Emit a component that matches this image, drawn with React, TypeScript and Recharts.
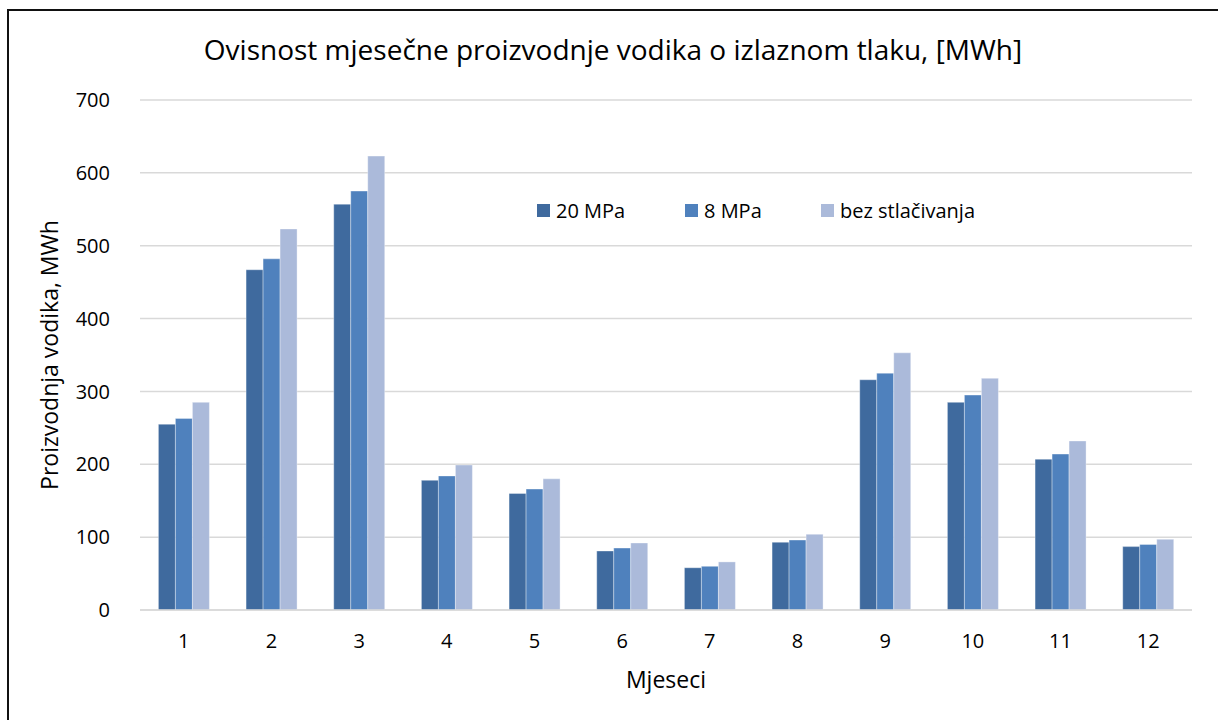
import { BarChart, Bar, XAxis, YAxis, CartesianGrid } from "recharts";

const months = ["1", "2", "3", "4", "5", "6", "7", "8", "9", "10", "11", "12"];
const mpa20 = [255, 467, 557, 178, 160, 81, 58, 93, 316, 285, 207, 87];
const mpa8 = [263, 482, 575, 184, 166, 85, 60, 96, 325, 295, 214, 90];
const bezStlacivanja = [285, 523, 623, 199, 180, 92, 66, 104, 353, 318, 232, 97];
const yTicks = [0, 100, 200, 300, 400, 500, 600, 700];

const seriesNames = ["20 MPa", "8 MPa", "bez stlačivanja"];
const seriesColors = ["#3f6a9e", "#4f81bd", "#abbada"];

const FONT = "'Open Sans', 'Noto Sans', sans-serif";

const data = months.map((m, i) => ({
  month: m,
  p20: mpa20[i],
  p8: mpa8[i],
  bez: bezStlacivanja[i],
}));

const legendLeft = [537, 685, 821];

export default function App() {
  return (
    <div
      style={{
        position: "absolute",
        left: 0,
        top: 0,
        width: 1218,
        height: 720,
        background: "#fff",
        overflow: "hidden",
        fontFamily: FONT,
      }}
    >
      <div
        style={{
          position: "absolute",
          left: 7,
          top: 9,
          width: 1300,
          height: 800,
          borderTop: "2px solid #111",
          borderLeft: "2px solid #111",
        }}
      />
      <BarChart
        width={1218}
        height={720}
        data={data}
        margin={{ top: 100, right: 26, bottom: 0, left: 0 }}
        barCategoryGap="21%"
        barGap={0}
        style={{ position: "absolute", left: 0, top: 0 }}
      >
        <CartesianGrid vertical={false} stroke="#d9d9d9" strokeWidth={1.5} />
        <XAxis
          dataKey="month"
          height={110}
          tickLine={false}
          axisLine={{ stroke: "#d9d9d9", strokeWidth: 1.5 }}
          tickMargin={18}
          tick={{ fill: "#000", fontSize: 20, fontFamily: FONT }}
          label={{
            value: "Mjeseci",
            position: "insideBottom",
            offset: 32,
            fill: "#000",
            fontSize: 23,
            fontFamily: FONT,
          }}
        />
        <YAxis
          width={140}
          domain={[0, 700]}
          ticks={yTicks}
          interval={0}
          tickLine={false}
          axisLine={false}
          tickMargin={24}
          tick={{ fill: "#000", fontSize: 20, fontFamily: FONT }}
          label={{
            value: "Proizvodnja vodika, MWh",
            angle: -90,
            position: "insideLeft",
            offset: 50,
            style: { textAnchor: "middle" },
            fill: "#000",
            fontSize: 23,
            fontFamily: FONT,
          }}
        />
        <Bar dataKey="p20" name={seriesNames[0]} fill={seriesColors[0]} stroke="#ffffff" strokeOpacity={0.35} strokeWidth={1} isAnimationActive={false} />
        <Bar dataKey="p8" name={seriesNames[1]} fill={seriesColors[1]} stroke="#ffffff" strokeOpacity={0.35} strokeWidth={1} isAnimationActive={false} />
        <Bar dataKey="bez" name={seriesNames[2]} fill={seriesColors[2]} stroke="#ffffff" strokeOpacity={0.35} strokeWidth={1} isAnimationActive={false} />
      </BarChart>
      <div
        style={{
          position: "absolute",
          left: 0,
          width: 1226,
          top: 30,
          textAlign: "center",
          fontSize: 28,
          color: "#000",
        }}
      >
        Ovisnost mjesečne proizvodnje vodika o izlaznom tlaku, [MWh]
      </div>
      {seriesNames.map((name, i) => (
        <div
          key={name}
          style={{
            position: "absolute",
            left: legendLeft[i],
            top: 197,
            display: "flex",
            alignItems: "center",
            whiteSpace: "nowrap",
            fontSize: 20,
            color: "#000",
          }}
        >
          <span
            style={{
              width: 13,
              height: 13,
              background: seriesColors[i],
              display: "inline-block",
              marginRight: 6,
            }}
          />
          {name}
        </div>
      ))}
    </div>
  );
}
